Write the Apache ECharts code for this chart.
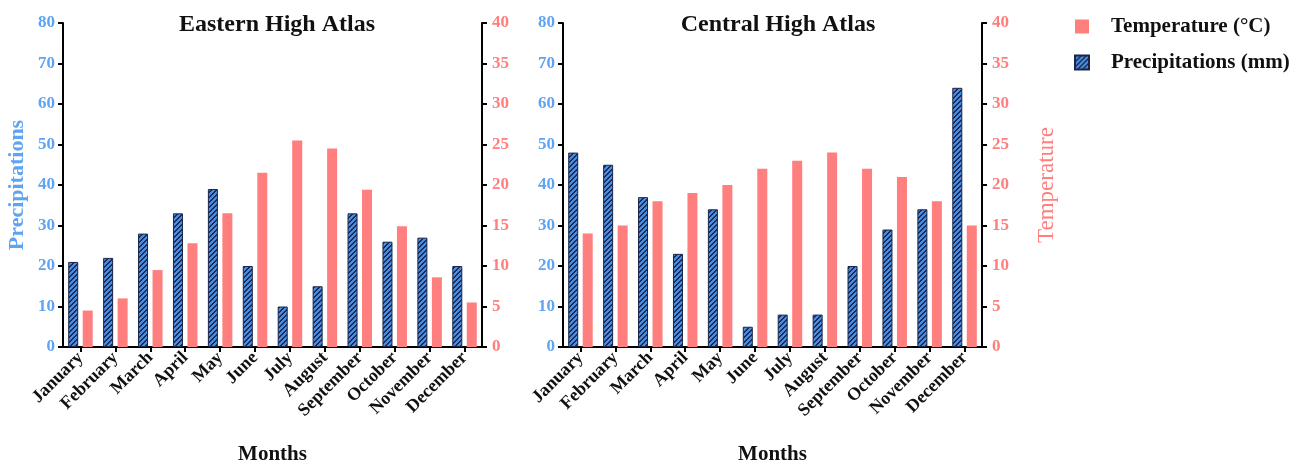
<!DOCTYPE html>
<html><head><meta charset="utf-8">
<script src="https://cdn.jsdelivr.net/npm/echarts@6/dist/echarts.min.js"></script>
<style>html,body{margin:0;padding:0;background:#fff}#c{width:1299px;height:461px}</style>
</head><body><div id="c"></div>
<script>
const months = ['January','February','March','April','May','June','July','August','September','October','November','December'];
const eastPrecip = [21,22,28,33,39,20,10,15,33,26,27,20];
const eastTemp = [4.5,6,9.5,12.8,16.5,21.5,25.5,24.5,19.4,14.9,8.6,5.5];
const centralPrecip = [48,45,37,23,34,5,8,8,20,29,34,64];
const centralTemp = [14,15,18,19,20,22,23,24,22,21,18,15];
const precipTicks = {min:0,max:80,interval:10};
const tempTicks = {min:0,max:40,interval:5};

const FONT = '"Liberation Serif", "DejaVu Serif", serif';
const BLUE_TXT = '#5ea4f2';
const PINK = '#ff7e7e';

function hatch(){
  const n=5, c=document.createElement('canvas'); c.width=c.height=n;
  const ctx=c.getContext('2d'); const img=ctx.createImageData(n,n);
  for(let y=0;y<n;y++)for(let x=0;x<n;x++){
    const i=(y*n+x)*4; const dark=((x+y)%n)<2;
    const col = dark?[28,42,85]:[70,140,225];
    img.data[i]=col[0];img.data[i+1]=col[1];img.data[i+2]=col[2];img.data[i+3]=255;
  }
  ctx.putImageData(img,0,0); return c;
}
const pattern = {image: hatch(), repeat:'repeat'};

const grids = [
  {left:63, top:23, width:419, height:324, outerBoundsMode:'none'},
  {left:563, top:23, width:419, height:324, outerBoundsMode:'none'}
];
function xAx(i){
  return {type:'category', gridIndex:i, data:months, boundaryGap:true,
    name:'Months', nameLocation:'middle', nameGap:97,
    nameTextStyle:{fontFamily:FONT, fontWeight:'bold', fontSize:21, color:'#111'},
    axisLine:{show:true, lineStyle:{color:'#000', width:2}},
    axisTick:{show:true, alignWithLabel:true, length:5, lineStyle:{color:'#000', width:2}},
    axisLabel:{rotate:45, interval:0, fontFamily:FONT, fontWeight:'bold', fontSize:18, color:'#111', margin:8},
    splitLine:{show:false}};
}
function yAx(i, pos, t, color, name){
  return {type:'value', gridIndex:i, position:pos, min:t.min, max:t.max, interval:t.interval,
    name:name||'', nameLocation:'middle', nameGap: pos==='left'?35:53, nameRotate:90,
    nameTextStyle:{fontFamily:FONT, fontWeight: pos==='left'?'bold':'normal', fontSize: pos==='left'?22:23, color:color},
    axisLine:{show:true, lineStyle:{color:'#000', width:2}},
    axisTick:{show:true, length:5, lineStyle:{color:'#000', width:2}},
    axisLabel:{fontFamily:FONT, fontWeight:'bold', fontSize:17, color:color, margin: pos==='left'?8:10},
    splitLine:{show:false}};
}
function bars(name, data, xi, yi, color, border){
  return {type:'bar', name:name, data:data, xAxisIndex:xi, yAxisIndex:yi, barWidth:10, barGap:'45%',
    itemStyle:{color:color, borderColor:border?'#1a2548':undefined, borderWidth:border?1:0},
    emphasis:{disabled:true}, animation:false};
}
const chart = echarts.init(document.getElementById('c'), null, {renderer:'canvas'});
chart.setOption({
  animation:false,
  title:[
    {text:'Eastern High Atlas', left:272, top:8, textAlign:'center', textStyle:{fontFamily:FONT, fontWeight:'bold', fontSize:24, color:'#111'}},
    {text:'Central High Atlas', left:773, top:8, textAlign:'center', textStyle:{fontFamily:FONT, fontWeight:'bold', fontSize:24, color:'#111'}}
  ],
  legend:{data:['Temperature (°C)','Precipitations (mm)'], orient:'vertical', left:1074, top:16, padding:0,
    itemWidth:14, itemHeight:14, itemGap:15, icon:'rect',
    textStyle:{fontFamily:FONT, fontWeight:'bold', fontSize:21, color:'#111', padding:[0,0,0,17]}},
  grid:grids,
  xAxis:[xAx(0), xAx(1)],
  yAxis:[
    yAx(0,'left',precipTicks,BLUE_TXT,'Precipitations'),
    yAx(0,'right',tempTicks,PINK,''),
    yAx(1,'left',precipTicks,BLUE_TXT,''),
    yAx(1,'right',tempTicks,PINK,'Temperature')
  ],
  series:[
    bars('Precipitations (mm)', eastPrecip, 0, 0, pattern, true),
    bars('Temperature (°C)', eastTemp, 0, 1, PINK, false),
    bars('Precipitations (mm)', centralPrecip, 1, 2, pattern, true),
    bars('Temperature (°C)', centralTemp, 1, 3, PINK, false)
  ]
});
</script></body></html>
